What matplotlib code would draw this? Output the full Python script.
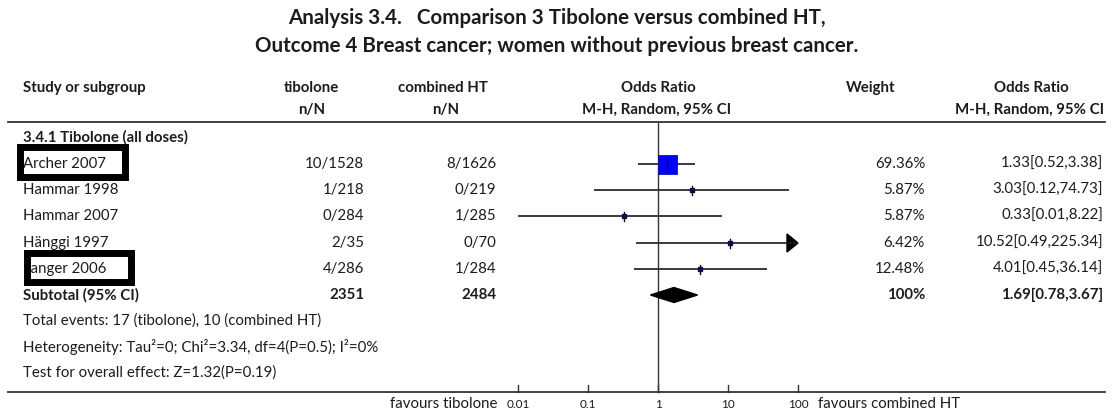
import numpy as np
import matplotlib.pyplot as plt
from matplotlib.patches import Rectangle, Polygon

plt.rcParams['font.family'] = ['Lato', 'DejaVu Sans']

# Study data
studies = ["Archer 2007", "Hammar 1998", "Hammar 2007", "Hänggi 1997", "Langer 2006"]
tib_nN = ["10/1528", "1/218", "0/284", "2/35", "4/286"]
cht_nN = ["8/1626", "0/219", "1/285", "0/70", "1/284"]
odds = [1.33, 3.03, 0.33, 10.52, 4.01]
ci_low = [0.52, 0.12, 0.01, 0.49, 0.45]
ci_high = [3.38, 74.73, 8.22, 225.34, 36.14]
weights = [69.36, 5.87, 5.87, 6.42, 12.48]

sub_tib, sub_cht = 2351, 2484
sub_or, sub_lo, sub_hi = 1.69, 0.78, 3.67
x_ticks = [0.01, 0.1, 1, 10, 100]
x_ticklabels = ["0.01", "0.1", "1", "10", "100"]

W, H = 1113, 412
fig = plt.figure(figsize=(W / 100, H / 100), dpi=100)

# page axes in pixel units for the table text
ax = fig.add_axes([0, 0, 1, 1])
ax.set_xlim(0, W)
ax.set_ylim(H, 0)
ax.axis("off")

# forest axes: log scale from 0.01 to 100
x0, x1 = 518, 798
fx = fig.add_axes([x0 / W, 0, (x1 - x0) / W, 1])
fx.set_xscale("log")
fx.set_xlim(0.01, 100)
fx.set_ylim(H, 0)
fx.axis("off")

txt = "#1c1c1c"
fs = 10.8

ax.text(557, 18, "Analysis 3.4.   Comparison 3 Tibolone versus combined HT,",
        ha="center", va="center", fontsize=14.8, fontweight="bold", color=txt)
ax.text(557, 46, "Outcome 4 Breast cancer; women without previous breast cancer.",
        ha="center", va="center", fontsize=14.8, fontweight="bold", color=txt)

# column headers
hy1, hy2 = 88, 110
hb = dict(va="center", fontsize=fs, fontweight="bold", color=txt)
ax.text(23, hy1, "Study or subgroup", ha="left", **hb)
ax.text(311, hy1, "tibolone", ha="center", **hb)
ax.text(312, hy2, "n/N", ha="center", **hb)
ax.text(443, hy1, "combined HT", ha="center", **hb)
ax.text(446, hy2, "n/N", ha="center", **hb)
ax.text(658, hy1, "Odds Ratio", ha="center", **hb)
ax.text(657, hy2, "M-H, Random, 95% CI", ha="center", **hb)
ax.text(871, hy1, "Weight", ha="center", **hb)
ax.text(1031, hy1, "Odds Ratio", ha="center", **hb)
ax.text(1030, hy2, "M-H, Random, 95% CI", ha="center", **hb)

ax.plot([8, 1105], [122, 122], color="#333333", lw=1.3)
ax.plot([8, 1105], [392, 392], color="#333333", lw=1.3)

ax.text(23, 137, "3.4.1 Tibolone (all doses)", ha="left", **hb)

rows_y = [164, 190, 216, 243, 269]
nt = dict(va="center", fontsize=fs, color=txt)
max_w = max(weights)
for i, name in enumerate(studies):
    y = rows_y[i]
    ax.text(23, y, name, ha="left", **nt)
    ax.text(364, y, tib_nN[i], ha="right", **nt)
    ax.text(496, y, cht_nN[i], ha="right", **nt)
    ax.text(925, y, f"{weights[i]:.2f}%", ha="right", **nt)
    ax.text(1103, y, f"{odds[i]:.2f}[{ci_low[i]:.2f},{ci_high[i]:.2f}]", ha="right", **nt)

    hi = min(ci_high[i], 100)
    fx.plot([ci_low[i], hi], [y, y], color="#1a1a1a", lw=1.2, solid_capstyle="butt")
    if ci_high[i] > 100:
        base = 100 / 10 ** (11 / 70)
        fx.add_patch(Polygon([(base, y - 9), (100, y), (base, y + 9)],
                             closed=True, color="black", clip_on=False))
    side = max(5, 19 * weights[i] / max_w)
    if weights[i] == max_w:
        fx.plot(odds[i], y, marker="s", ms=side * 0.72, color="#0000ff",
                mec="#1010a0", mew=0.6, zorder=3)
    else:
        fx.plot(odds[i], y, marker="s", ms=side * 0.72, color="#0a0a60",
                mec="#0a0a60", zorder=3)
    fx.plot([odds[i], odds[i]], [y - 4.5, y + 4.5], color="#111111", lw=1, zorder=4)

# subtotal row
sy = 295
ax.text(23, sy, "Subtotal (95% CI)", ha="left", **hb)
ax.text(364, sy, str(sub_tib), ha="right", **hb)
ax.text(496, sy, str(sub_cht), ha="right", **hb)
ax.text(925, sy, "100%", ha="right", **hb)
ax.text(1103, sy, f"{sub_or:.2f}[{sub_lo:.2f},{sub_hi:.2f}]", ha="right", **hb)
fx.add_patch(Polygon([(sub_lo, sy), (sub_or, sy - 7.5), (sub_hi, sy), (sub_or, sy + 7.5)],
                     closed=True, color="black", zorder=3))

ax.text(23, 321, "Total events: 17 (tibolone), 10 (combined HT)", ha="left", **nt)
ax.text(23, 347, "Heterogeneity: Tau²=0; Chi²=3.34, df=4(P=0.5); I²=0%", ha="left", **nt)
ax.text(23, 373, "Test for overall effect: Z=1.32(P=0.19)", ha="left", **nt)

# line of no effect and axis ticks
fx.plot([1, 1], [123, 392], color="#333333", lw=1)
for t, lab in zip(x_ticks, x_ticklabels):
    fx.plot([t, t], [385, 392], color="#333333", lw=1, clip_on=False)
    fx.text(t, 404, lab, ha="center", va="center", fontsize=8.5, color=txt, clip_on=False)

ax.text(497, 404, "favours tibolone", ha="right", va="center", fontsize=fs, color=txt)
ax.text(818, 404, "favours combined HT", ha="left", va="center", fontsize=fs, color=txt)

# highlight boxes
ax.add_patch(Rectangle((19.5, 146.5), 105, 30, fill=False, ec="black", lw=5, zorder=5))
ax.add_patch(Rectangle((26.5, 252.5), 104, 29, fill=False, ec="black", lw=5, zorder=5))

fig.savefig("out.png", dpi=100)
